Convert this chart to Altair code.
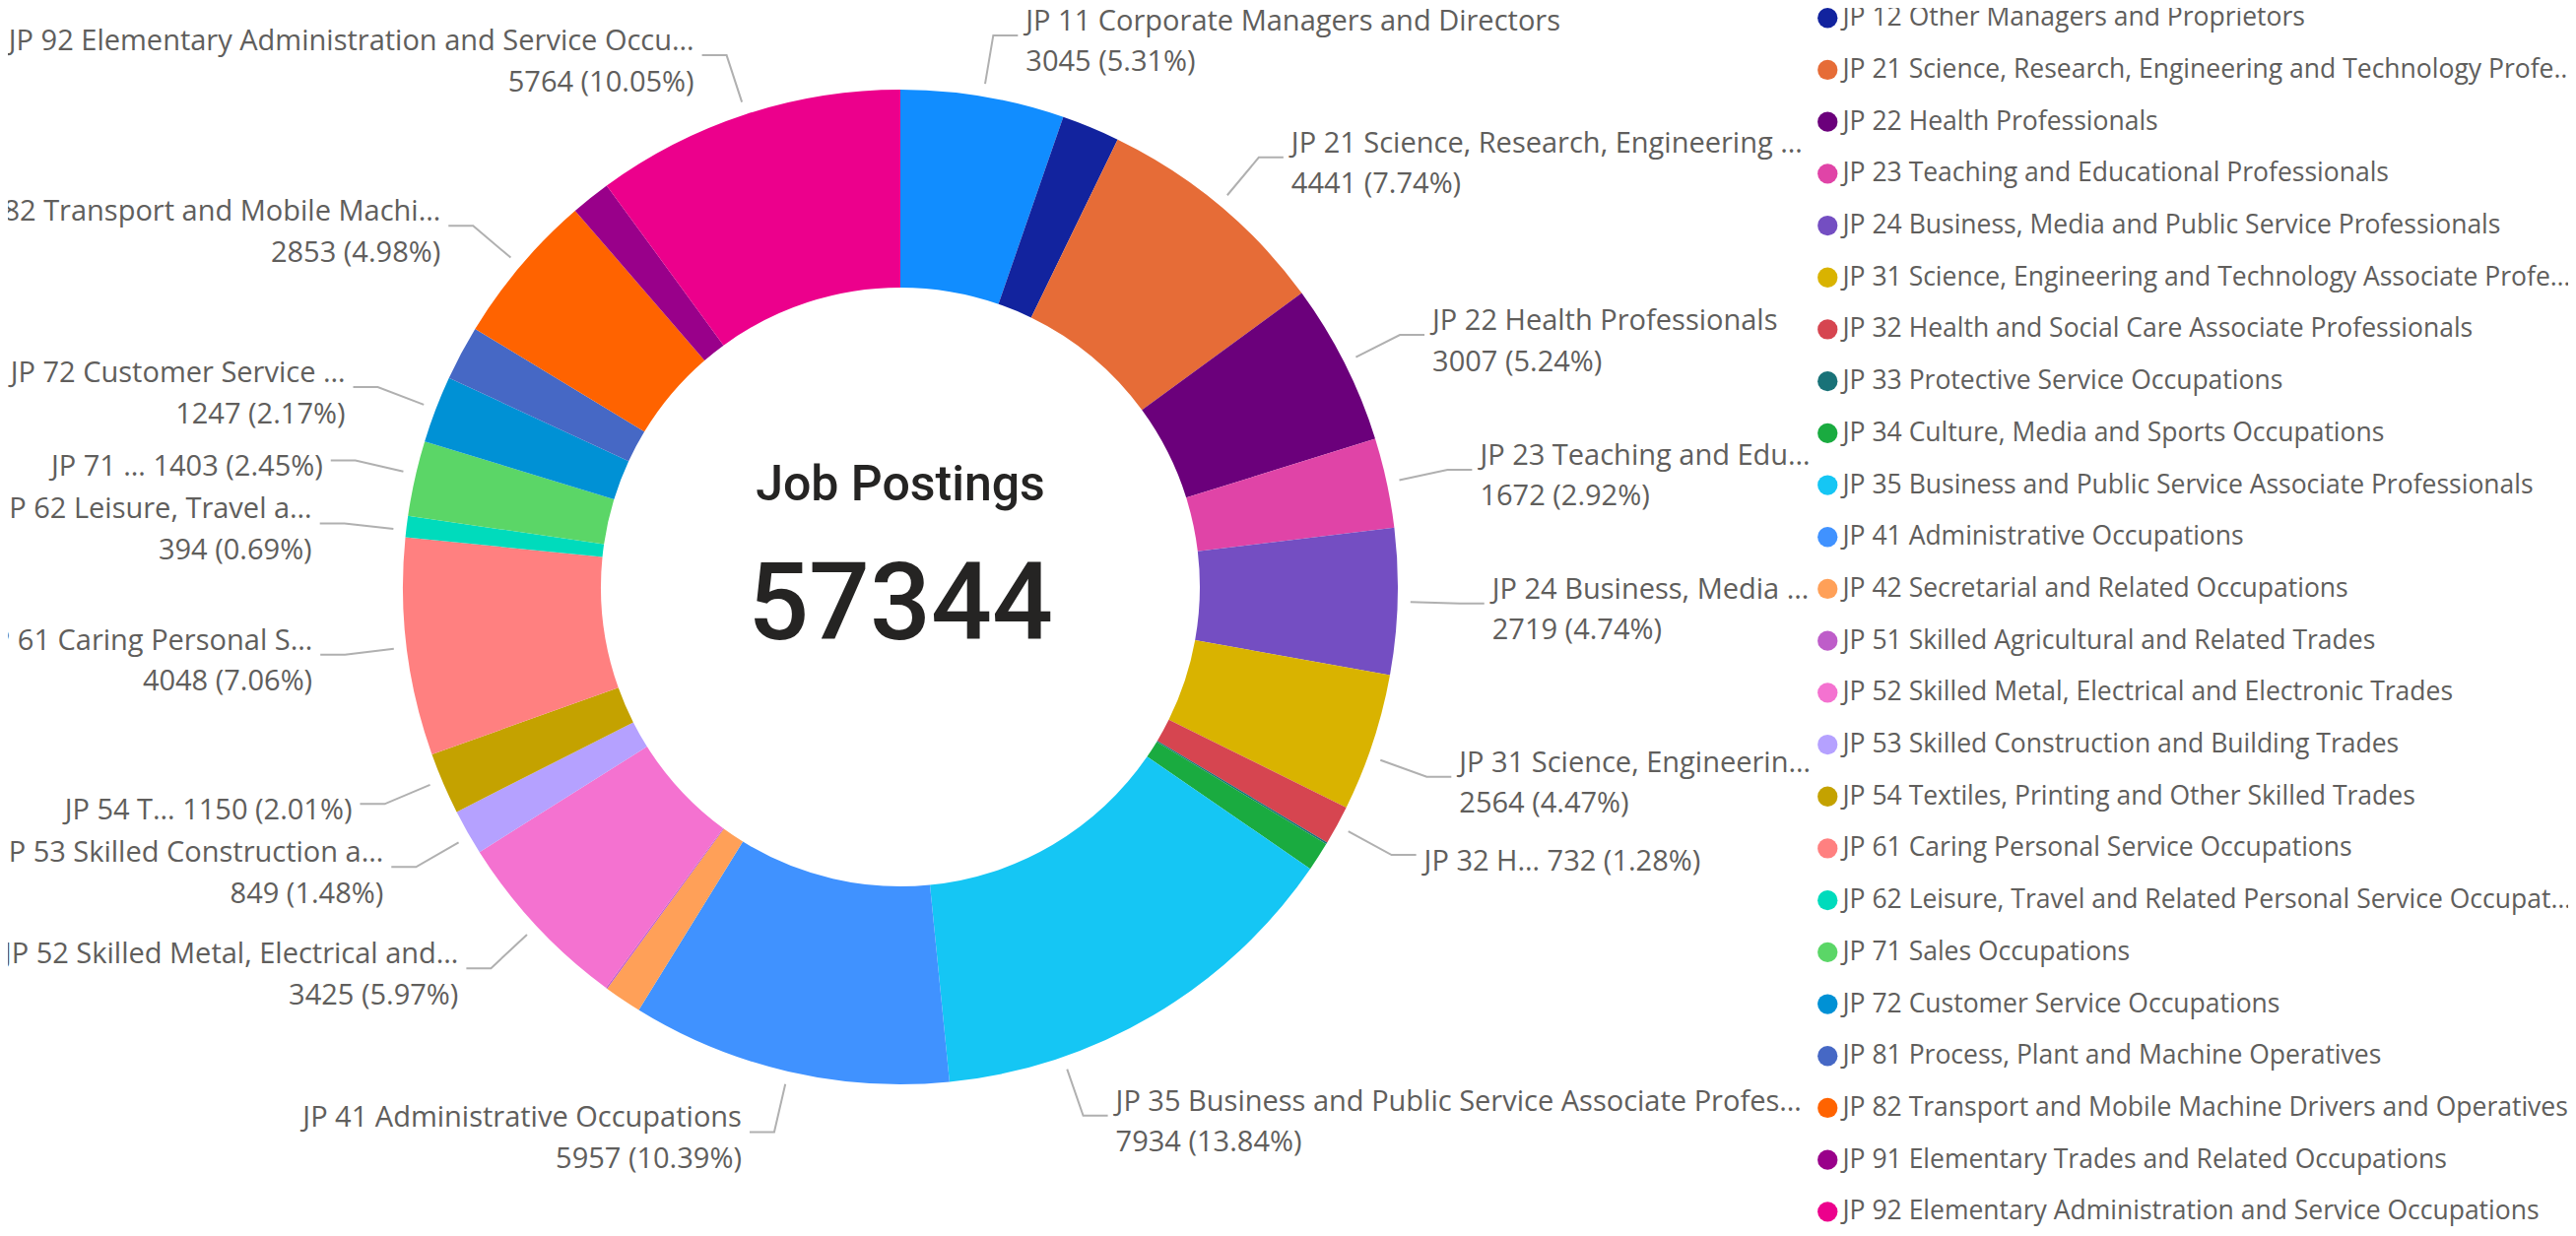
import math
import altair as alt
import pandas as pd

# ---------------- data ----------------
categories = [
    "JP 11 Corporate Managers and Directors",
    "JP 12 Other Managers and Proprietors",
    "JP 21 Science, Research, Engineering and Technology Professionals",
    "JP 22 Health Professionals",
    "JP 23 Teaching and Educational Professionals",
    "JP 24 Business, Media and Public Service Professionals",
    "JP 31 Science, Engineering and Technology Associate Professionals",
    "JP 32 Health and Social Care Associate Professionals",
    "JP 33 Protective Service Occupations",
    "JP 34 Culture, Media and Sports Occupations",
    "JP 35 Business and Public Service Associate Professionals",
    "JP 41 Administrative Occupations",
    "JP 42 Secretarial and Related Occupations",
    "JP 51 Skilled Agricultural and Related Trades",
    "JP 52 Skilled Metal, Electrical and Electronic Trades",
    "JP 53 Skilled Construction and Building Trades",
    "JP 54 Textiles, Printing and Other Skilled Trades",
    "JP 61 Caring Personal Service Occupations",
    "JP 62 Leisure, Travel and Related Personal Service Occupations",
    "JP 71 Sales Occupations",
    "JP 72 Customer Service Occupations",
    "JP 81 Process, Plant and Machine Operatives",
    "JP 82 Transport and Mobile Machine Drivers and Operatives",
    "JP 91 Elementary Trades and Related Occupations",
    "JP 92 Elementary Administration and Service Occupations",
]
values = [3045, 1080, 4441, 3007, 1672, 2719, 2564, 732, 35, 540, 7934, 5957,
          700, 25, 3425, 849, 1150, 4048, 394, 1403, 1247, 1020, 2853, 740, 5764]
colors = ["#118DFF", "#12239E", "#E66C37", "#6B007B", "#E044A7", "#744EC2",
          "#D9B300", "#D64550", "#197278", "#1AAB40", "#15C6F4", "#4092FF",
          "#FFA058", "#BE5DC9", "#F472D0", "#B5A1FF", "#C4A200", "#FF8080",
          "#00DBBC", "#5BD667", "#0091D5", "#4668C5", "#FF6300", "#99008A",
          "#EC008C"]
# data-label names as displayed (truncated); None = no label shown
label_names = [
    "JP 11 Corporate Managers and Directors", None,
    "JP 21 Science, Research, Engineering …",
    "JP 22 Health Professionals",
    "JP 23 Teaching and Edu…",
    "JP 24 Business, Media …",
    "JP 31 Science, Engineerin…",
    "JP 32 H…", None, None,
    "JP 35 Business and Public Service Associate Profes…",
    "JP 41 Administrative Occupations", None, None,
    "JP 52 Skilled Metal, Electrical and…",
    "JP 53 Skilled Construction a…",
    "JP 54 T…",
    "JP 61 Caring Personal S…",
    "JP 62 Leisure, Travel a…",
    "JP 71 …",
    "JP 72 Customer Service …", None,
    "JP 82 Transport and Mobile Machi…", None,
    "JP 92 Elementary Administration and Service Occu…",
]
# labels shown on a single line (name and value together)
single_line_labels = ["JP 32 H…", "JP 54 T…", "JP 71 …"]
center_title = "Job Postings"
legend_values = categories[1:]  # legend list is scrolled past its first entry

# ---------------- layout / style ----------------
W, H = 2599, 1237
CX, CY = 906, 588
R_OUT, R_IN = 505, 304
R_START, R_KNEE = 518, 568
SEG, GAP = 25, 8
LINE_H = 41.5
LABEL_FONT = "Open Sans"
LABEL_SIZE = 29
CHAR_W = 0.481 * LABEL_SIZE      # rough average advance, for fitting only
RIGHT_LIMIT = 1836               # labels on the right must end before the legend
TEXT_GRAY = "#605E5C"
PAD = 12

total = sum(values)

items = []
cum = 0
for i, (c, v) in enumerate(zip(categories, values)):
    mid = (cum + v / 2) / total * 2 * math.pi
    cum += v
    name = label_names[i]
    if name is None:
        continue
    vtxt = f"{v} ({v / total * 100:.2f}%)"
    if name in single_line_labels:
        lines = [f"{name} {vtxt}"]
        top, bot, base = -8, 24, [16]
    else:
        lines = [name, vtxt]
        top, bot, base = -28, 46, [-5, -5 + LINE_H]
    side = "R" if math.sin(mid) >= 0 else "L"
    ang = mid
    if side == "R":
        width = max(len(t) for t in lines) * CHAR_W
        max_dx = RIGHT_LIMIT - GAP - SEG - width - CX
        if R_KNEE * math.sin(mid) > max_dx:
            a = math.asin(max(0.0, min(1.0, max_dx / R_KNEE)))
            ang = a if mid < math.pi / 2 else math.pi - a
    items.append(dict(i=i, side=side, lines=lines, top=top, bot=bot,
                      base=base, y=CY - R_KNEE * math.cos(ang)))

# push overlapping label blocks apart (per side), keep them on the canvas
for side in ("L", "R"):
    grp = sorted([it for it in items if it["side"] == side], key=lambda d: d["y"])
    for _ in range(500):
        moved = False
        for a, b in zip(grp, grp[1:]):
            need = a["bot"] - b["top"] + PAD
            d = b["y"] - a["y"]
            if d < need - 0.01:
                shift = (need - d) / 2
                a["y"] -= shift
                b["y"] += shift
                moved = True
        for it in grp:
            it["y"] = min(max(it["y"], -it["top"] - 2), H - it["bot"])
        if not moved:
            break

leader_rows, text_rows = [], []
for it in items:
    c = max(-1.0, min(1.0, (CY - it["y"]) / R_KNEE))
    ang = math.acos(c) if it["side"] == "R" else 2 * math.pi - math.acos(c)
    sgn = 1 if it["side"] == "R" else -1
    sx, sy = CX + R_START * math.sin(ang), CY - R_START * math.cos(ang)
    kx, ky = CX + R_KNEE * math.sin(ang), CY - R_KNEE * math.cos(ang)
    ex = kx + sgn * SEG
    for k, (px_, py_) in enumerate([(sx, sy), (kx, ky), (ex, ky)]):
        leader_rows.append(dict(lab=it["i"], k=k, x=px_, y=py_))
    tx = ex + sgn * GAP
    for t, b in zip(it["lines"], it["base"]):
        text_rows.append(dict(x=tx, y=ky + b, text=t, side=it["side"]))

arcs_df = pd.DataFrame({"category": categories, "value": values,
                        "idx": list(range(len(values)))})
leaders_df = pd.DataFrame(leader_rows)
text_df = pd.DataFrame(text_rows)
center_df = pd.DataFrame({"title": [center_title], "total": [str(total)]})


def px(f):
    return alt.X(f, scale=None, axis=None)


def py(f):
    return alt.Y(f, scale=None, axis=None)


arc = alt.Chart(arcs_df).mark_arc(outerRadius=R_OUT, innerRadius=R_IN).encode(
    theta=alt.Theta("value:Q", stack=True),
    order=alt.Order("idx:Q"),
    color=alt.Color(
        "category:N",
        scale=alt.Scale(domain=categories, range=colors),
        legend=alt.Legend(
            title=None, orient="none", legendX=1834, legendY=-3,
            values=legend_values, symbolType="circle", symbolSize=412,
            symbolStrokeWidth=0, symbolOpacity=1, labelFont=LABEL_FONT,
            labelFontSize=26.5, labelColor=TEXT_GRAY, labelLimit=745,
            labelOffset=2, rowPadding=25.7, direction="vertical",
        ),
    ),
    x=alt.value(CX), y=alt.value(CY),
)

leaders = alt.Chart(leaders_df).mark_line(color="#B0B0B0", strokeWidth=2).encode(
    x=px("x:Q"), y=py("y:Q"), detail="lab:N", order="k:Q"
)

text_r = alt.Chart(text_df).transform_filter("datum.side == 'R'").mark_text(
    align="left", baseline="alphabetic", font=LABEL_FONT, fontSize=LABEL_SIZE,
    color=TEXT_GRAY
).encode(x=px("x:Q"), y=py("y:Q"), text="text:N")

text_l = alt.Chart(text_df).transform_filter("datum.side == 'L'").mark_text(
    align="right", baseline="alphabetic", font=LABEL_FONT, fontSize=LABEL_SIZE,
    color=TEXT_GRAY
).encode(x=px("x:Q"), y=py("y:Q"), text="text:N")

title_txt = alt.Chart(center_df).mark_text(
    align="center", baseline="alphabetic", font="Roboto", fontWeight=500,
    fontSize=50, color="#252423"
).encode(x=alt.value(CX), y=alt.value(CY - 88), text="title:N")

total_txt = alt.Chart(center_df).mark_text(
    align="center", baseline="alphabetic", font="Roboto", fontWeight=500,
    fontSize=109, color="#252423"
).encode(x=alt.value(CX), y=alt.value(CY + 53), text="total:N")

chart = alt.layer(arc, leaders, text_r, text_l, title_txt, total_txt).properties(
    width=W, height=H, padding=0, autosize=alt.AutoSizeParams(type="none")
).configure_view(stroke=None)

chart.save("out.html", embed_options={"renderer": "svg", "actions": False})
